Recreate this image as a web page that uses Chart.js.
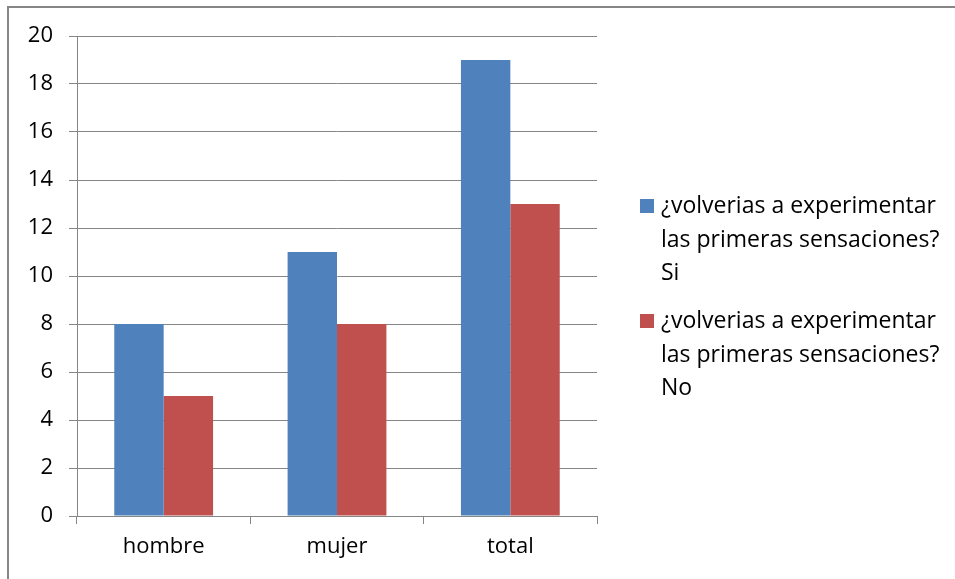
<!DOCTYPE html>
<html>
<head>
<meta charset="utf-8">
<script src="https://cdn.jsdelivr.net/npm/chart.js@4.4.0/dist/chart.umd.min.js"></script>
<style>
  html, body { margin: 0; padding: 0; background: #fff; }
  #wrap { width: 955px; height: 579px; }
</style>
</head>
<body>
<div id="wrap"><canvas id="grafica"></canvas></div>
<script>
// datos
var categorias = ["hombre", "mujer", "total"];
var valoresSi = [8, 11, 19];
var valoresNo = [5, 8, 13];
var etiquetas = [
    "¿volverias a experimentar las primeras sensaciones? Si",
    "¿volverias a experimentar las primeras sensaciones? No"
];
var ticksY = [0, 2, 4, 6, 8, 10, 12, 14, 16, 18, 20];

var fuente = "'Open Sans', 'Liberation Sans', sans-serif";
var gris = "#868686";

// marco exterior
var marco = {
    id: 'marco',
    beforeDraw: function(chart) {
        var ctx = chart.ctx;
        ctx.save();
        ctx.strokeStyle = gris;
        ctx.lineWidth = 2;
        ctx.strokeRect(8, 7, 1000, 1000);
        ctx.restore();
    }
};

// leyenda a mano, con texto partido en lineas
function partirTexto(ctx, texto, ancho) {
    var palabras = texto.split(' ');
    var lineas = [], actual = '';
    palabras.forEach(function(p) {
        var prueba = actual ? actual + ' ' + p : p;
        if (ctx.measureText(prueba).width > ancho && actual) {
            lineas.push(actual);
            actual = p;
        } else {
            actual = prueba;
        }
    });
    if (actual) lineas.push(actual);
    return lineas;
}

var leyenda = {
    id: 'leyenda',
    afterDraw: function(chart) {
        var ctx = chart.ctx;
        ctx.save();
        ctx.font = "23px " + fuente;
        ctx.textBaseline = 'alphabetic';
        var y = 213; // linea base de la primera linea
        chart.data.datasets.forEach(function(ds) {
            ctx.fillStyle = ds.backgroundColor;
            ctx.fillRect(640, y - 14, 14, 14);
            ctx.fillStyle = '#000';
            var lineas = partirTexto(ctx, ds.label, 285);
            lineas.forEach(function(l, i) {
                ctx.fillText(l, 661, y + i * 33.5);
            });
            y += lineas.length * 33.5 + 14.5;
        });
        ctx.restore();
    }
};

new Chart(document.getElementById('grafica').getContext('2d'), {
    type: 'bar',
    data: {
        labels: categorias,
        datasets: [
            { label: etiquetas[0], data: valoresSi, backgroundColor: '#4F81BD', categoryPercentage: 0.57, barPercentage: 1 },
            { label: etiquetas[1], data: valoresNo, backgroundColor: '#C0504D', categoryPercentage: 0.57, barPercentage: 1 }
        ]
    },
    options: {
        responsive: true,
        maintainAspectRatio: false,
        animation: false,
        layout: { padding: { top: 36, right: 358, left: 0, bottom: 0 } },
        plugins: { legend: { display: false }, tooltip: { enabled: false } },
        scales: {
            x: {
                afterFit: function(s) { s.height = 63; },
                grid: { offset: true, drawOnChartArea: false, color: gris, tickLength: 8 },
                border: { color: gris, width: 1 },
                ticks: { color: '#000', font: { family: fuente, size: 22 }, padding: 10 }
            },
            y: {
                min: 0, max: 20,
                afterFit: function(s) { s.width = 77; },
                afterBuildTicks: function(s) { s.ticks = ticksY.map(function(v) { return { value: v }; }); },
                grid: { color: gris, tickLength: 8 },
                border: { color: gris, width: 1 },
                ticks: { color: '#000', font: { family: fuente, size: 22 }, padding: 16 }
            }
        }
    },
    plugins: [marco, leyenda]
});
</script>
</body>
</html>
